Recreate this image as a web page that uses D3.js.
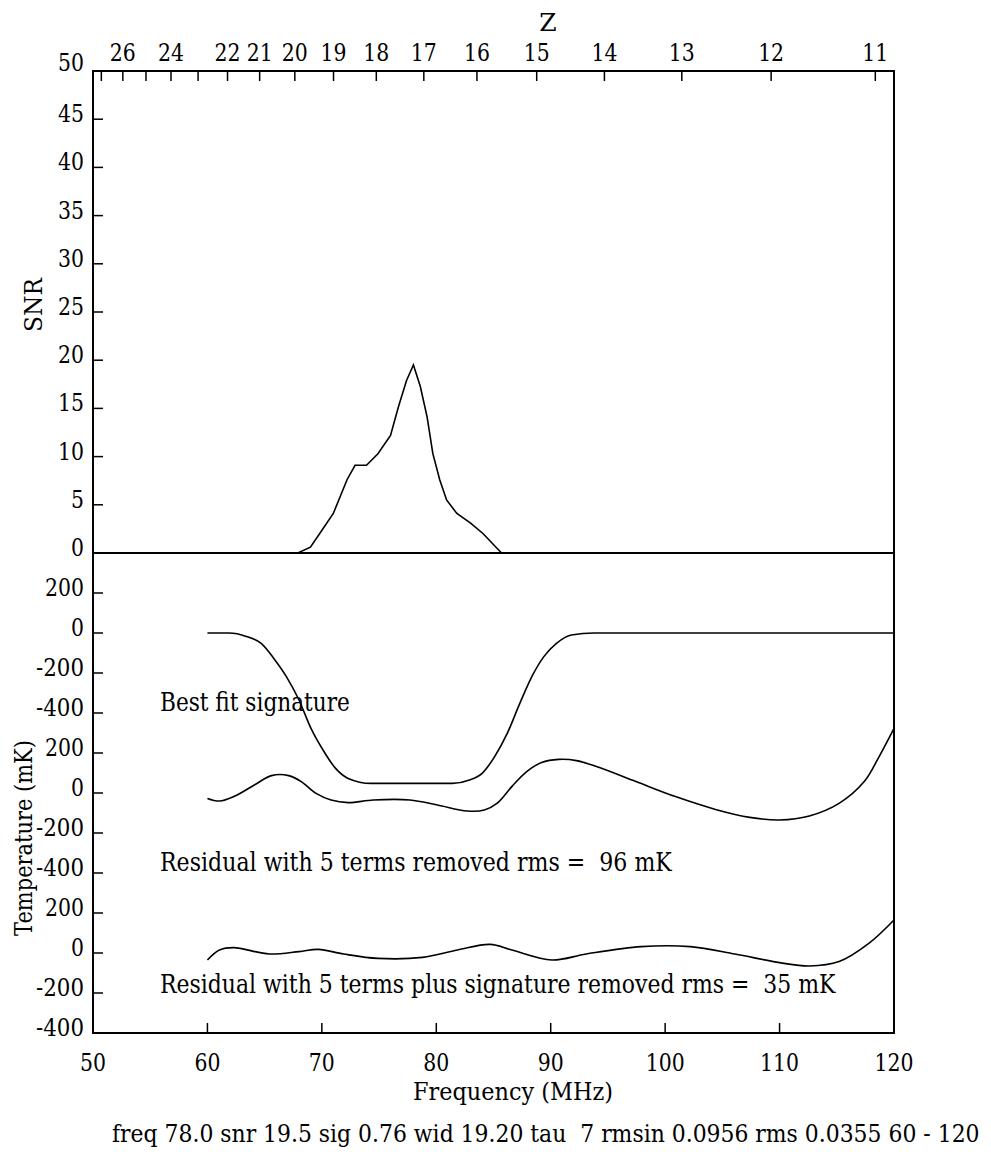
<!DOCTYPE html>
<html><head><meta charset="utf-8">
<script src="https://cdn.jsdelivr.net/npm/d3@7"></script>
<style>
html,body{margin:0;padding:0;background:#fff;}
svg text{font-family:'DejaVu Serif','Liberation Serif',serif;fill:#000;}
</style></head>
<body>
<svg id="chart" width="991" height="1152"></svg>
<script>
// ---- data ----
const freqTicks = [50, 60, 70, 80, 90, 100, 110, 120];
const snrTicks = [0, 5, 10, 15, 20, 25, 30, 35, 40, 45, 50];
const tempTicks = [200, 0, -200, -400];
const zTicks = [27, 26, 25, 24, 23, 22, 21, 20, 19, 18, 17, 16, 15, 14, 13, 12, 11];
const zLabels = [26, 24, 22, 21, 20, 19, 18, 17, 16, 15, 14, 13, 12, 11];

const snrFreq = [50, 67.9, 69.0, 69.8, 71.0, 72.2, 72.9, 73.9, 74.9, 76.0, 76.7, 77.4, 78.0, 78.6, 79.2, 79.7, 80.3, 80.9, 81.8, 83.0, 84.1, 85.7, 120];
const snrValues = [0, 0, 0.6, 2.0, 4.1, 7.6, 9.1, 9.1, 10.3, 12.2, 15.2, 17.9, 19.5, 17.3, 14.1, 10.3, 7.6, 5.5, 4.1, 3.1, 2.0, 0, 0];

const sigFreq = [60, 61.9, 63.4, 64.7, 65.8, 66.9, 68.0, 69.05, 70.1, 71.2, 72.3, 74.3, 81.4, 82.9, 84.0, 85.1, 86.2, 87.3, 88.35, 89.4, 90.5, 91.8, 93.8, 120];
const sigValues = [0, 0, -17, -52, -127, -218, -335, -477, -585, -677, -727, -752, -752, -735, -702, -618, -502, -352, -218, -118, -52, -10, 0, 0];

const res5Freq = [60, 61.05, 62.3, 64.1, 65.6, 67.1, 68.2, 69.5, 70.8, 72.3, 74.5, 77.7, 80.1, 82.7, 84.2, 85.3, 86.6, 87.9, 89.2, 90.7, 92.25, 94.0, 97.45, 100.9, 104.4, 107.4, 110.0, 112.6, 115.2, 117.4, 118.7, 120];
const res5Values = [-27, -40, -18, 40, 87, 87, 57, -2, -35, -48, -35, -35, -60, -90, -85, -52, 32, 107, 152, 168, 162, 132, 57, -18, -82, -122, -135, -115, -52, 57, 182, 323];

const res6Freq = [60, 61.05, 62.3, 65.4, 68.0, 69.7, 71.9, 74.9, 78.8, 81.85, 84.7, 86.6, 90.1, 93.1, 97.9, 102.2, 106.1, 110.0, 112.6, 115.2, 117.8, 120];
const res6Values = [-35, 15, 27, -5, 7, 18, -5, -27, -22, 15, 43, 15, -35, -5, 32, 32, -5, -48, -65, -43, 48, 165];

const panelTexts = ["Best fit signature", "Residual with 5 terms removed rms =  96 mK", "Residual with 5 terms plus signature removed rms =  35 mK"];
const footText = "freq 78.0 snr 19.5 sig 0.76 wid 19.20 tau  7 rmsin 0.0956 rms 0.0355 60 - 120";

// ---- layout ----
const L = 93, R = 894, T = 71, MID = 553, B = 1033;
const FS = 24;
const svg = d3.select("#chart");

const x = d3.scaleLinear().domain([50, 120]).range([L, R]);
const ySnr = d3.scaleLinear().domain([0, 50]).range([MID, T]);
const panelZero = [633, 793, 953];
const yPanels = panelZero.map(z0 => d3.scaleLinear().domain([-400, 400]).range([z0 + 80, z0 - 80]));
const zToFreq = z => 1420.4 / (z + 1);

// place a text at (px,py) and squeeze it horizontally (via transform) to a target width if wider
function scaledText(px, py, str, size, w, anchor, rotate) {
  const g = svg.append("g");
  const t = g.append("text").attr("x", 0).attr("y", 0).attr("font-size", size)
    .attr("text-anchor", anchor || "start").style("white-space", "pre").text(str);
  const actual = t.node().getComputedTextLength();
  const sx = (w && actual > w) ? w / actual : 1;
  g.attr("transform", `translate(${px},${py})` + (rotate ? ` rotate(${rotate})` : "") + ` scale(${sx},1)`);
  return t;
}

// frame
svg.append("rect").attr("x", L).attr("y", T).attr("width", R - L).attr("height", B - T)
  .attr("fill", "none").attr("stroke", "#000").attr("stroke-width", 2);

// top Z axis
zTicks.forEach(z => {
  const xx = x(zToFreq(z));
  svg.append("line").attr("x1", xx).attr("x2", xx).attr("y1", T).attr("y2", T + 10)
    .attr("stroke", "#000").attr("stroke-width", 1.5);
});
zLabels.forEach(z => scaledText(x(zToFreq(z)), 61, String(z), FS, 26, "middle"));
scaledText(548, 31, "Z", FS + 1, null, "middle");

// bottom frequency axis
freqTicks.forEach(f => {
  if (f > 50 && f < 120) {
    svg.append("line").attr("x1", x(f)).attr("x2", x(f)).attr("y1", B).attr("y2", B - 10)
      .attr("stroke", "#000").attr("stroke-width", 1.5);
  }
  scaledText(x(f), 1071, String(f), FS, String(f).length * 13, "middle");
});
scaledText(513, 1100, "Frequency (MHz)", FS, 200, "middle");

// SNR axis
snrTicks.forEach(s => {
  if (s > 0 && s < 50) {
    svg.append("line").attr("x1", L).attr("x2", L + 10).attr("y1", ySnr(s)).attr("y2", ySnr(s))
      .attr("stroke", "#000").attr("stroke-width", 1.5);
  }
  scaledText(84, ySnr(s) + (s === 50 ? 0 : 3), String(s), FS, String(s).length * 13, "end");
});
scaledText(42, 305, "SNR", FS, 54, "middle", -90);

// temperature axes
yPanels.forEach((ys) => {
  tempTicks.forEach(t => {
    const yy = ys(t);
    if (yy < B - 1) {
      svg.append("line").attr("x1", L).attr("x2", L + 10).attr("y1", yy).attr("y2", yy)
        .attr("stroke", "#000").attr("stroke-width", 1.5);
    }
    const s = String(t);
    scaledText(84, yy + 3, s, FS, s.replace("-", "").length * 13 + (s[0] === "-" ? 9 : 0), "end");
  });
});
scaledText(32, 838, "Temperature (mK)", FS, 196, "middle", -90);

// divider
svg.append("line").attr("x1", L).attr("x2", R).attr("y1", MID).attr("y2", MID)
  .attr("stroke", "#000").attr("stroke-width", 2);

// curves
const lineSnr = d3.line().x((d, i) => x(snrFreq[i])).y(d => ySnr(d));
svg.append("path").attr("d", lineSnr(snrValues)).attr("fill", "none").attr("stroke", "#000").attr("stroke-width", 1.6);

function drawCurve(fr, vals, ys, curve) {
  const ln = d3.line().x((d, i) => x(fr[i])).y(d => ys(d)).curve(curve);
  svg.append("path").attr("d", ln(vals)).attr("fill", "none").attr("stroke", "#000").attr("stroke-width", 1.6);
}
drawCurve(sigFreq, sigValues, yPanels[0], d3.curveMonotoneX);
drawCurve(res5Freq, res5Values, yPanels[1], d3.curveCatmullRom.alpha(0.5));
drawCurve(res6Freq, res6Values, yPanels[2], d3.curveCatmullRom.alpha(0.5));

// panel texts
const textY = [711, 871, 993];
const textW = [190, 512, 676];
panelTexts.forEach((s, i) => scaledText(160, textY[i], s, FS + 2, textW[i], "start"));

scaledText(112, 1142, footText, FS + 1, 868, "start");
</script>
</body></html>
